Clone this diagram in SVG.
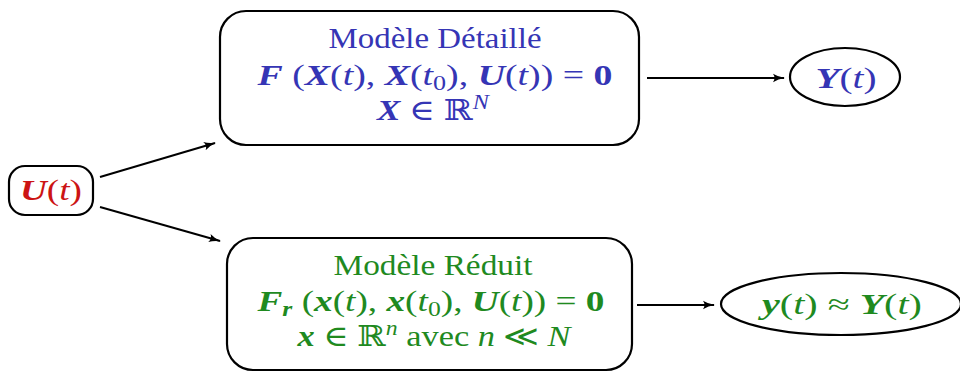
<svg xmlns="http://www.w3.org/2000/svg" width="960" height="372" viewBox="0 0 960 372">
<defs>
<marker id="ah" viewBox="0 0 12 10" refX="11" refY="5" markerWidth="12" markerHeight="10" markerUnits="userSpaceOnUse" orient="auto">
<path d="M0,0.8 Q5,4 12,5 Q5,6 0,9.2 Q3,5 0,0.8 Z" fill="#000"/>
</marker>
<style>
.box{fill:#fff;stroke:#000;stroke-width:2.2}
.con{fill:none;stroke:#000;stroke-width:2;marker-end:url(#ah)}
text{font-family:"Liberation Serif","DejaVu Serif",serif;font-size:29px;text-anchor:middle}
.b{fill:#3535b5}
.g{fill:#1f8a1f}
.r{fill:#cc1414}
.v{font-weight:bold;font-style:italic}
.i{font-style:italic}
.bd{font-weight:bold}
.s{font-size:20px}
</style>
</defs>
<g id="connectors">
<line class="con" x1="100" y1="177" x2="215" y2="143"/>
<line class="con" x1="100" y1="207" x2="220" y2="241"/>
<line class="con" x1="647" y1="78" x2="784" y2="78"/>
<line class="con" x1="637" y1="305" x2="714" y2="305"/>
</g>
<g id="input">
<rect class="box" x="9" y="166" width="84" height="49" rx="16"/>
<text class="r" x="51" y="200" textLength="62" lengthAdjust="spacingAndGlyphs"><tspan class="v">U</tspan>(<tspan class="i">t</tspan>)</text>
</g>
<g id="detailed">
<rect class="box" x="220" y="11" width="419" height="134" rx="26"/>
<text class="b" x="435" y="48" textLength="213" lengthAdjust="spacingAndGlyphs">Modèle Détaillé</text>
<text class="b" x="435" y="85" textLength="355" lengthAdjust="spacingAndGlyphs"><tspan class="v">F</tspan> (<tspan class="v">X</tspan>(<tspan class="i">t</tspan>), <tspan class="v">X</tspan>(<tspan class="i">t</tspan><tspan class="s" dy="5">0</tspan><tspan dy="-5">), </tspan><tspan class="v">U</tspan>(<tspan class="i">t</tspan>)) = <tspan class="bd">0</tspan></text>
<text class="b" x="433" y="120" textLength="112" lengthAdjust="spacingAndGlyphs"><tspan class="v">X</tspan> ∈ ℝ<tspan class="s i" dy="-11">N</tspan></text>
</g>
<g id="reduced">
<rect class="box" x="227" y="238" width="405" height="132" rx="26"/>
<text class="g" x="433" y="275" textLength="199" lengthAdjust="spacingAndGlyphs">Modèle Réduit</text>
<text class="g" x="431" y="311" textLength="347" lengthAdjust="spacingAndGlyphs"><tspan class="v">F</tspan><tspan class="v s" dy="5">r</tspan><tspan dy="-5"> (</tspan><tspan class="v">x</tspan>(<tspan class="i">t</tspan>), <tspan class="v">x</tspan>(<tspan class="i">t</tspan><tspan class="s" dy="5">0</tspan><tspan dy="-5">), </tspan><tspan class="v">U</tspan>(<tspan class="i">t</tspan>)) = <tspan class="bd">0</tspan></text>
<text class="g" x="434" y="346" textLength="273" lengthAdjust="spacingAndGlyphs"><tspan class="v">x</tspan> ∈ ℝ<tspan class="s i" dy="-11">n</tspan><tspan dy="11"> avec </tspan><tspan class="i">n</tspan> ≪ <tspan class="i">N</tspan></text>
</g>
<g id="output-detailed">
<ellipse class="box" cx="845" cy="77" rx="55" ry="29"/>
<text class="b" x="846" y="88" textLength="61" lengthAdjust="spacingAndGlyphs"><tspan class="v">Y</tspan>(<tspan class="i">t</tspan>)</text>
</g>
<g id="output-reduced">
<ellipse class="box" cx="841" cy="304" rx="120" ry="31"/>
<text class="g" x="842" y="314" textLength="160" lengthAdjust="spacingAndGlyphs"><tspan class="v">y</tspan>(<tspan class="i">t</tspan>) ≈ <tspan class="v">Y</tspan>(<tspan class="i">t</tspan>)</text>
</g>
</svg>
